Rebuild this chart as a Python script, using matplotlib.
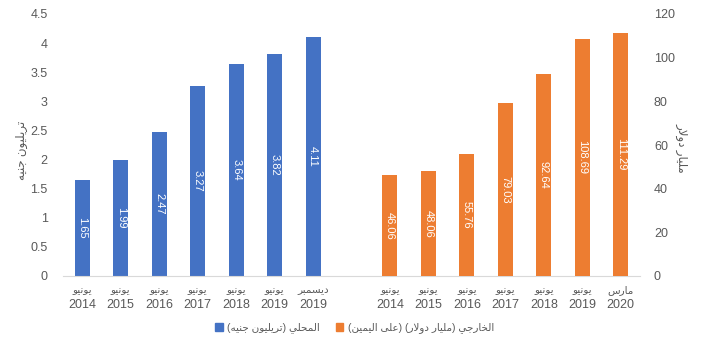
import matplotlib
matplotlib.use('Agg')
import matplotlib.pyplot as plt
import matplotlib.transforms as mtransforms
from matplotlib.patches import Patch

# data
local_months = ['يونيو', 'يونيو', 'يونيو', 'يونيو', 'يونيو', 'يونيو', 'ديسمبر']
local_years = ['2014', '2015', '2016', '2017', '2018', '2019', '2019']
local_vals = [1.65, 1.99, 2.47, 3.27, 3.64, 3.82, 4.11]

ext_months = ['يونيو', 'يونيو', 'يونيو', 'يونيو', 'يونيو', 'يونيو', 'مارس']
ext_years = ['2014', '2015', '2016', '2017', '2018', '2019', '2020']
ext_vals = [46.06, 48.06, 55.76, 79.03, 92.64, 108.69, 111.29]

left_label = 'تريليون جنيه'
right_label = 'مليار دولار'
legend_local = 'المحلي (تريليون جنيه)'
legend_ext = 'الخارجي (مليار دولار) (على اليمين)'

BLUE = '#4472C4'
ORANGE = '#ED7D31'
GRAY = '#595959'

# minimal arabic shaping (isolated, final, initial, medial)
FORMS = {
    'ا': (0xFE8D, 0xFE8E, None, None),
    'ب': (0xFE8F, 0xFE90, 0xFE91, 0xFE92),
    'ت': (0xFE95, 0xFE96, 0xFE97, 0xFE98),
    'ج': (0xFE9D, 0xFE9E, 0xFE9F, 0xFEA0),
    'ح': (0xFEA1, 0xFEA2, 0xFEA3, 0xFEA4),
    'خ': (0xFEA5, 0xFEA6, 0xFEA7, 0xFEA8),
    'د': (0xFEA9, 0xFEAA, None, None),
    'ر': (0xFEAD, 0xFEAE, None, None),
    'س': (0xFEB1, 0xFEB2, 0xFEB3, 0xFEB4),
    'ع': (0xFEC9, 0xFECA, 0xFECB, 0xFECC),
    'ل': (0xFEDD, 0xFEDE, 0xFEDF, 0xFEE0),
    'م': (0xFEE1, 0xFEE2, 0xFEE3, 0xFEE4),
    'ن': (0xFEE5, 0xFEE6, 0xFEE7, 0xFEE8),
    'ه': (0xFEE9, 0xFEEA, 0xFEEB, 0xFEEC),
    'و': (0xFEED, 0xFEEE, None, None),
    'ى': (0xFEEF, 0xFEF0, None, None),
    'ي': (0xFEF1, 0xFEF2, 0xFEF3, 0xFEF4),
}


def joins_after(c):
    return c in FORMS and FORMS[c][2] is not None


def ar(text):
    chars = list(text)
    n = len(chars)
    res = []
    i = 0
    while i < n:
        c = chars[i]
        if c not in FORMS:
            res.append(c)
            i += 1
            continue
        link_prev = i > 0 and joins_after(chars[i - 1])
        if c == 'ل' and i + 1 < n and chars[i + 1] == 'ا':
            res.append(chr(0xFEFC if link_prev else 0xFEFB))
            i += 2
            continue
        nxt = chars[i + 1] if i + 1 < n else ''
        link_next = FORMS[c][2] is not None and nxt in FORMS
        iso, fin, ini, med = FORMS[c]
        if link_prev and link_next:
            g = med
        elif link_prev:
            g = fin
        elif link_next:
            g = ini
        else:
            g = iso
        res.append(chr(g))
        i += 1
    vis = ''.join(reversed(res))
    return vis.translate(str.maketrans('()', ')('))


plt.rcParams['font.family'] = ['Liberation Sans', 'DejaVu Sans']

fig = plt.figure(figsize=(7.05, 3.51), dpi=100)
ax = fig.add_axes([63 / 705, 1 - 276 / 351, 577 / 705, 262 / 351])
ax2 = ax.twinx()

n = len(local_vals)
x_local = list(range(n))
x_ext = [i + n + 1 for i in range(len(ext_vals))]
w = 0.39

ax.bar(x_local, local_vals, width=w, color=BLUE, zorder=2)
ax2.bar(x_ext, ext_vals, width=w, color=ORANGE, zorder=2)

for x, v in zip(x_local, local_vals):
    ax.text(x, v / 2, f'{v:.2f}', rotation=-90, ha='center', va='center',
            color='white', fontsize=8)
for x, v in zip(x_ext, ext_vals):
    ax2.text(x, v / 2, f'{v:.2f}', rotation=-90, ha='center', va='center',
             color='white', fontsize=8)

ax.set_xlim(-0.5, n + len(ext_vals) + 0.5)
ax.set_ylim(0, 4.5)
ax2.set_ylim(0, 120)
ax.set_yticks([i * 0.5 for i in range(10)])
ax.set_yticklabels(['0', '0.5', '1', '1.5', '2', '2.5', '3', '3.5', '4', '4.5'])
ax2.set_yticks(range(0, 121, 20))
ax.set_xticks([])

for a in (ax, ax2):
    for s in a.spines.values():
        s.set_visible(False)
    a.tick_params(length=0, labelsize=9, labelcolor=GRAY)
ax.spines['bottom'].set_visible(True)
ax.spines['bottom'].set_color('#D9D9D9')
ax.tick_params(axis='y', pad=11)
ax2.tick_params(axis='y', pad=10)

trans = mtransforms.blended_transform_factory(ax.transData, ax.transAxes)
for x, m, y in list(zip(x_local, local_months, local_years)) + list(zip(x_ext, ext_months, ext_years)):
    ax.text(x, -0.052, ar(m), transform=trans, ha='center', va='center',
            fontsize=7.5, color=GRAY)
    ax.text(x, -0.112, y, transform=trans, ha='center', va='center',
            fontsize=9, color=GRAY)

fig.text(22 / 705, 1 - 150 / 351, ar(left_label), rotation=90, ha='center',
         va='center', fontsize=8.5, color=GRAY)
fig.text(681 / 705, 1 - 148 / 351, ar(right_label), rotation=-90, ha='center',
         va='center', fontsize=8.5, color=GRAY)

handles = [Patch(color=BLUE), Patch(color=ORANGE)]
fig.legend(handles, [ar(legend_local), ar(legend_ext)], loc='center',
           bbox_to_anchor=(0.503, 1 - 328 / 351), ncol=2, frameon=False,
           fontsize=7.5, handlelength=0.7, handleheight=0.7, handletextpad=0.4,
           columnspacing=1.6, labelcolor=GRAY)

fig.savefig('out.png', dpi=100)
